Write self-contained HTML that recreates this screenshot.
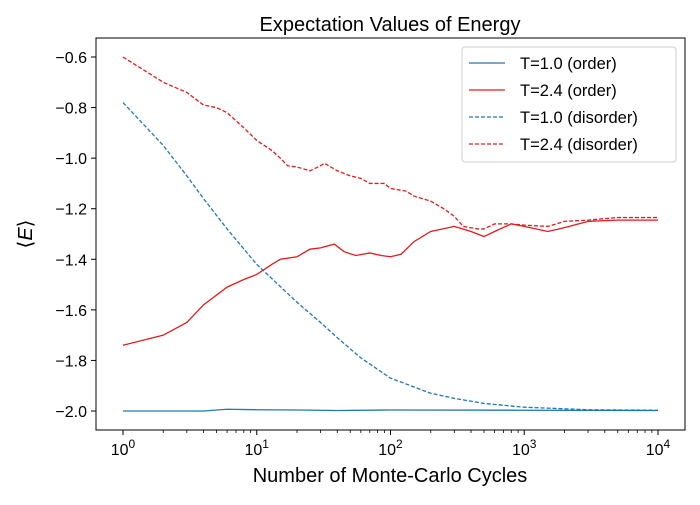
<!DOCTYPE html>
<html><head><meta charset="utf-8"><style>
body{margin:0;background:#fff;}
svg{font-family:"Liberation Sans","DejaVu Sans",sans-serif;}
</style></head><body>
<svg id="chart" width="700" height="500">
<text x="390" y="31" text-anchor="middle" font-size="20" fill="#000">Expectation Values of Energy</text>
<text x="390" y="482" text-anchor="middle" font-size="20" fill="#000">Number of Monte-Carlo Cycles</text>
<text transform="translate(32,234) rotate(-90)" text-anchor="middle" font-size="20" fill="#000">⟨<tspan font-style="italic">E</tspan>⟩</text>
<g id="ticks"></g>
<g id="series"></g>
<rect x="96" y="38" width="589" height="392" fill="none" stroke="#000" stroke-width="1"/>
<g>
<rect x="462" y="47" width="214" height="115" rx="3" fill="#fff" fill-opacity="0.8" stroke="#ccc"/>
<g><line x1="469" y1="63" x2="505" y2="63" stroke="#1f77b4" stroke-width="1.3"/><text x="520" y="69" font-size="16.5">T=1.0 (order)</text></g>
<g><line x1="469" y1="90" x2="505" y2="90" stroke="#e41a1c" stroke-width="1.3"/><text x="520" y="96" font-size="16.5">T=2.4 (order)</text></g>
<g><line x1="469" y1="117" x2="505" y2="117" stroke="#1f77b4" stroke-width="1.3" stroke-dasharray="4,2"/><text x="520" y="123" font-size="16.5">T=1.0 (disorder)</text></g>
<g><line x1="469" y1="144" x2="505" y2="144" stroke="#e41a1c" stroke-width="1.3" stroke-dasharray="4,2"/><text x="520" y="150" font-size="16.5">T=2.4 (disorder)</text></g>
</g>
</svg>
<script>
const xTickExps=[0,1,2,3,4];
const yTicks=[-2.0,-1.8,-1.6,-1.4,-1.2,-1.0,-0.8,-0.6];
const cyclesT1Order=[1,4,6,10,20,40,100,1000,10000];
const valsT1Order=[-2.0,-2.0,-1.993,-1.995,-1.996,-1.998,-1.996,-1.997,-1.998];
const cyclesT24Order=[1,2,3,4,6,8,10,13,15,20,25,30,38,45,55,70,85,100,120,150,200,300,400,500,600,800,1000,1500,2000,3000,5000,10000];
const valsT24Order=[-1.74,-1.70,-1.65,-1.58,-1.51,-1.48,-1.46,-1.42,-1.40,-1.39,-1.36,-1.355,-1.34,-1.37,-1.385,-1.375,-1.385,-1.39,-1.38,-1.33,-1.29,-1.27,-1.29,-1.31,-1.29,-1.26,-1.27,-1.29,-1.275,-1.25,-1.245,-1.245];
const cyclesT1Dis=[1,2,3,4,6,10,20,30,40,60,100,200,300,500,1000,3000,10000];
const valsT1Dis=[-0.78,-0.95,-1.07,-1.16,-1.28,-1.42,-1.57,-1.65,-1.71,-1.79,-1.87,-1.93,-1.95,-1.97,-1.985,-1.995,-1.997];
const cyclesT24Dis=[1,2,3,4,5,6,8,10,13,15,17,20,25,30,32,40,50,60,70,90,100,130,150,200,250,300,350,450,500,600,800,1000,1500,2000,3000,5000,10000];
const valsT24Dis=[-0.60,-0.70,-0.74,-0.79,-0.80,-0.82,-0.88,-0.93,-0.97,-1.00,-1.03,-1.035,-1.05,-1.03,-1.02,-1.05,-1.07,-1.08,-1.10,-1.10,-1.12,-1.13,-1.15,-1.17,-1.20,-1.23,-1.27,-1.28,-1.28,-1.26,-1.26,-1.265,-1.27,-1.25,-1.245,-1.235,-1.235];

const NS="http://www.w3.org/2000/svg";
function xs(v){return 123+Math.log10(v)*133.75;}
function ys(v){return 411-(v+2.0)/0.2*50.57;}
const tg=document.getElementById('ticks');
function mk(tag,attrs,parent){const e=document.createElementNS(NS,tag);for(const k in attrs)e.setAttribute(k,attrs[k]);parent.appendChild(e);return e;}
xTickExps.forEach(p=>{
  const x=xs(Math.pow(10,p));
  const l=mk('line',{x1:x,x2:x,y1:430,y2:435,stroke:'#000'},tg);
  
  
  const t=mk('text',{x:x,y:455,'text-anchor':'middle','font-size':'16'},tg);
  
  
  t.appendChild(document.createTextNode('10'));
  const s=mk('tspan',{dy:'-7','font-size':'12'},t);s.textContent=p;
  if(p<4)for(let m=2;m<10;m++){const xm=xs(m*Math.pow(10,p));
    const ml=mk('line',{x1:xm,x2:xm,y1:430,y2:433,stroke:'#000','stroke-width':'0.8'},tg);
    
    }
});
yTicks.forEach(v=>{
  const y=ys(v);
  const l=mk('line',{x1:91,x2:96,y1:y,y2:y,stroke:'#000'},tg);
  
  
  const t=mk('text',{x:87,y:y+6,'text-anchor':'end','font-size':'16'},tg);
  
  
  t.textContent='\u2212'+Math.abs(v).toFixed(1);
});
const sg=document.getElementById('series');
function line(cs,vs,color,dash,name){
  const d=cs.map((c,i)=>(i?'L':'M')+xs(c).toFixed(2)+','+ys(vs[i]).toFixed(2)).join('');
  const p=mk('path',{d:d,fill:'none',stroke:color,'stroke-width':'1.3'},sg);
  if(dash)p.setAttribute('stroke-dasharray','4,2');
  
  
}
line(cyclesT1Order,valsT1Order,'#1f77b4',false,'line-t1-order');
line(cyclesT24Order,valsT24Order,'#e41a1c',false,'line-t24-order');
line(cyclesT1Dis,valsT1Dis,'#1f77b4',true,'line-t1-disorder');
line(cyclesT24Dis,valsT24Dis,'#e41a1c',true,'line-t24-disorder');
</script>
</body></html>
